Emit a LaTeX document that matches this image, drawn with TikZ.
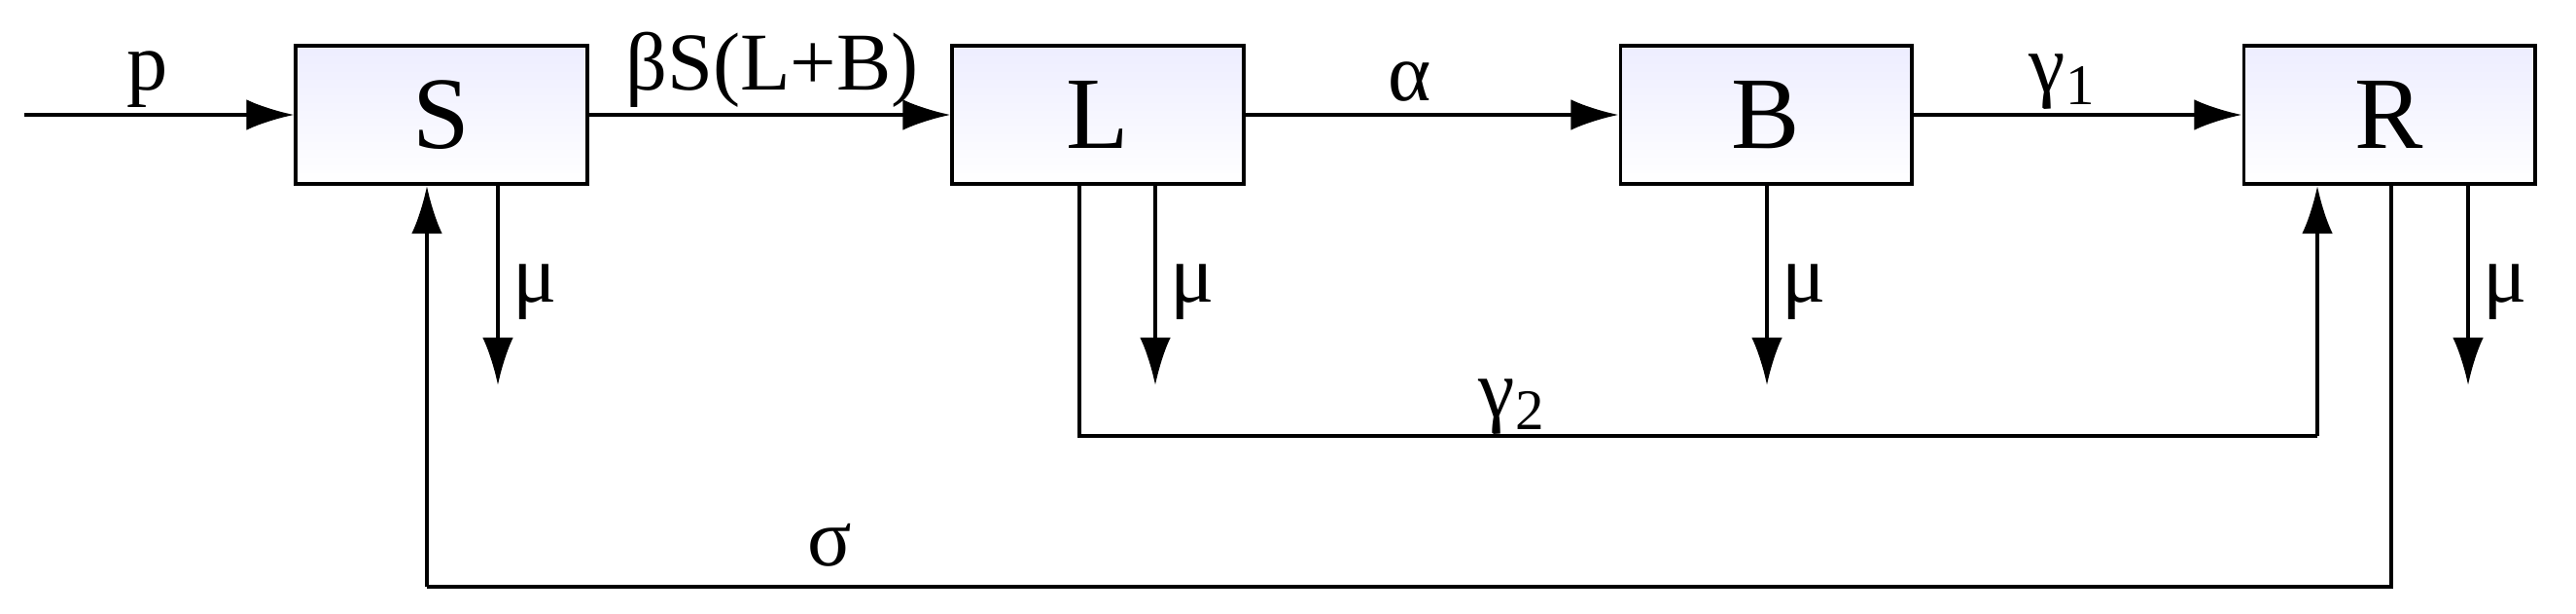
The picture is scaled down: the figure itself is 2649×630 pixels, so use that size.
\documentclass[tikz,border=0pt]{standalone}
\usepackage{fontspec}
\setmainfont{Liberation Serif}
\usetikzlibrary{arrows.meta}
\begin{document}
\begin{tikzpicture}[x=0.01cm,y=-0.01cm,
  box/.style={draw,line width=1.1pt,minimum width=2.99cm,minimum height=1.42cm,inner sep=0,
    top color=blue!7,bottom color=white,font=\fontsize{30}{34}\selectfont},
  lab/.style={font=\fontsize{24}{28}\selectfont,inner sep=0},
  arr/.style={line width=1.1pt,-{Latex[length=14pt,width=9pt]}},
  ln/.style={line width=1.1pt}]
\useasboundingbox (0,0) rectangle (2649,630);
\node[box] (S) at (454,118) {S};
\node[box] (L) at (1129,118) {L};
\node[box] (B) at (1816,118) {B};
\node[box] (R) at (2457,118) {R};
\coordinate (in) at (25,118);
\draw[arr] (in) -- (S);
\node[lab] (p) at (152,82) {p};
\draw[arr] (S) -- (L);
\node[lab] (bs) at (794,72) {βS(L+B)};
\draw[arr] (L) -- (B);
\node[lab] (al) at (1450,84) {α};
\draw[arr] (B) -- (R);
\node[lab] (g1) at (2121,84) {γ\textsubscript{1}};
% mu arrows
\foreach \b/\x in {S/512,L/1188,B/1817,R/2538}{
  \coordinate (m\b) at (\x,396);
  \draw[arr] (\b.south -| m\b) -- (m\b);
  \node[lab] at (\x+38,300) {μ};
}
% gamma2
\coordinate (l2) at (1110,448);
\coordinate (r2) at (2383,448);
\draw[ln] (L.south -| l2) -- (l2) -- (r2);
\draw[arr] (r2) -- (R.south -| r2);
\node[lab] (g2) at (1555,418) {γ\textsubscript{2}};
% sigma
\coordinate (rs) at (2459,603);
\coordinate (ss) at (439,603);
\draw[ln] (R.south -| rs) -- (rs) -- (ss);
\draw[arr] (ss) -- (S.south -| ss);
\node[lab] (sg) at (853,560) {σ};
\end{tikzpicture}
\end{document}
